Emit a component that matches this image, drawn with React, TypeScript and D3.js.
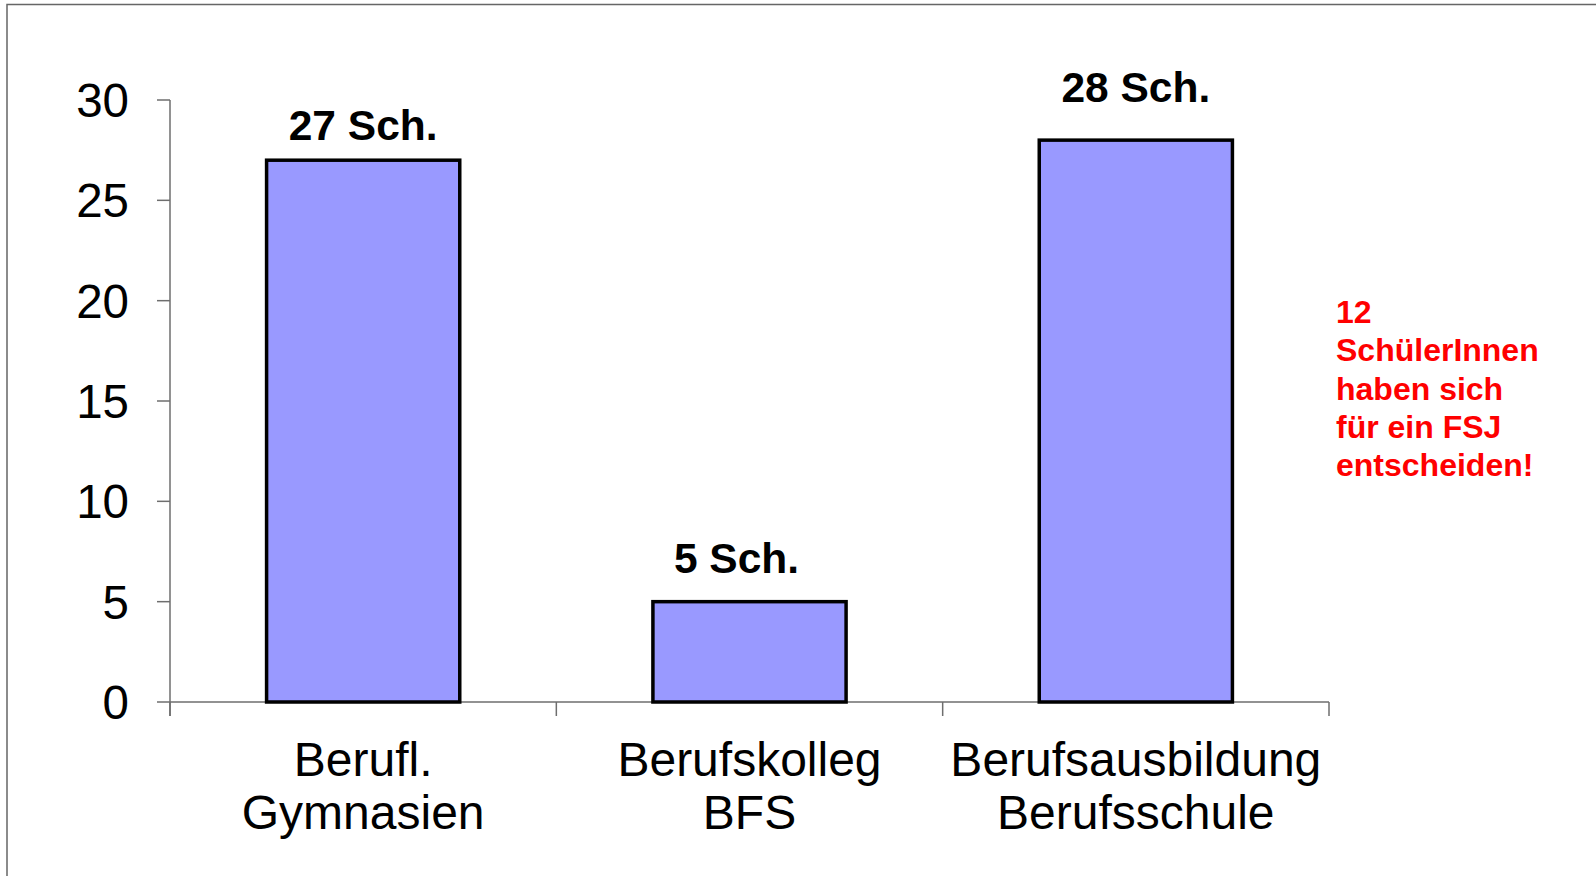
import React, { useEffect, useRef } from "react";
import * as d3 from "d3";

// chart data
const categories = ["Berufl.|Gymnasien", "Berufskolleg|BFS", "Berufsausbildung|Berufsschule"];
const values = [27, 5, 28];
const valueLabels = ["27 Sch.", "5 Sch.", "28 Sch."];
const yTicks = [0, 5, 10, 15, 20, 25, 30];
const noteLines = ["12", "SchülerInnen", "haben sich", "für ein FSJ", "entscheiden!"];

// manual nudges of the value labels (they were hand-placed in the original)
const labelNudgeX = [0, -13, 0];
const labelNudgeY = [-20, -29, -38];

const FONT = "'Liberation Sans', Arial, sans-serif";

export default function App() {
  const ref = useRef<SVGSVGElement | null>(null);

  useEffect(() => {
    const width = 1596;
    const height = 876;
    const left = 170;
    const right = 1329;
    const top = 100;
    const bottom = 702;

    const svg = d3.select(ref.current);
    svg.selectAll("*").remove();
    svg.attr("width", width).attr("height", height);

    svg.append("rect").attr("width", width).attr("height", height).attr("fill", "#fff");

    // slide frame
    svg
      .append("rect")
      .attr("x", 7)
      .attr("y", 4.5)
      .attr("width", width + 20)
      .attr("height", height + 20)
      .attr("fill", "none")
      .attr("stroke", "#666")
      .attr("stroke-width", 1.5);

    const x = d3
      .scaleBand<string>()
      .domain(categories)
      .range([left, right])
      .paddingInner(0.5)
      .paddingOuter(0.25);

    const y = d3.scaleLinear().domain([0, 30]).range([bottom, top]);

    const axisColor = "#6e6e6e";

    // y axis
    const gy = svg.append("g");
    gy.append("line")
      .attr("x1", left).attr("x2", left)
      .attr("y1", y(30)).attr("y2", bottom + 14)
      .attr("stroke", axisColor).attr("stroke-width", 1.5);
    gy.selectAll("line.tick")
      .data(yTicks)
      .join("line")
      .attr("class", "tick")
      .attr("x1", left - 13).attr("x2", left)
      .attr("y1", (d) => y(d)).attr("y2", (d) => y(d))
      .attr("stroke", axisColor).attr("stroke-width", 1.5);
    gy.selectAll("text")
      .data(yTicks)
      .join("text")
      .attr("x", 129)
      .attr("y", (d) => y(d))
      .attr("dy", "0.36em")
      .attr("text-anchor", "end")
      .attr("font-family", FONT)
      .attr("font-size", 47.5)
      .attr("fill", "#000")
      .text((d) => d);

    // x axis
    const gx = svg.append("g");
    gx.append("line")
      .attr("x1", left).attr("x2", right)
      .attr("y1", bottom).attr("y2", bottom)
      .attr("stroke", axisColor).attr("stroke-width", 1.5);
    const step = x.step();
    const boundaries = d3.range(categories.length + 1).map((i) => left + i * step);
    gx.selectAll("line.tick")
      .data(boundaries)
      .join("line")
      .attr("class", "tick")
      .attr("x1", (d) => d).attr("x2", (d) => d)
      .attr("y1", bottom).attr("y2", bottom + 14)
      .attr("stroke", axisColor).attr("stroke-width", 1.5);

    const catText = gx
      .selectAll("text")
      .data(categories)
      .join("text")
      .attr("text-anchor", "middle")
      .attr("font-family", FONT)
      .attr("font-size", 48)
      .attr("fill", "#000");
    catText
      .selectAll("tspan")
      .data((d) => d.split("|").map((line) => ({ line, cat: d })))
      .join("tspan")
      .attr("x", (d) => (x(d.cat) as number) + x.bandwidth() / 2)
      .attr("y", (d, i) => 776 + i * 53)
      .text((d) => d.line);

    // bars
    svg
      .append("g")
      .selectAll("rect")
      .data(values)
      .join("rect")
      .attr("x", (d, i) => x(categories[i]) as number)
      .attr("y", (d) => y(d))
      .attr("width", x.bandwidth())
      .attr("height", (d) => bottom - y(d))
      .attr("fill", "#9999ff")
      .attr("stroke", "#000")
      .attr("stroke-width", 3.5);

    // value labels
    svg
      .append("g")
      .selectAll("text")
      .data(values)
      .join("text")
      .attr("x", (d, i) => (x(categories[i]) as number) + x.bandwidth() / 2 + labelNudgeX[i])
      .attr("y", (d, i) => y(d) + labelNudgeY[i])
      .attr("text-anchor", "middle")
      .attr("font-family", FONT)
      .attr("font-weight", "bold")
      .attr("font-size", 42.5)
      .attr("fill", "#000")
      .text((d, i) => valueLabels[i]);

    // red note
    svg
      .append("g")
      .selectAll("text")
      .data(noteLines)
      .join("text")
      .attr("x", 1336)
      .attr("y", (d, i) => 323 + i * 38.3)
      .attr("font-family", FONT)
      .attr("font-weight", "bold")
      .attr("font-size", 32)
      .attr("fill", "#ff0000")
      .text((d) => d);
  }, []);

  return (
    <svg
      ref={ref}
      style={{ position: "absolute", left: 0, top: 0, display: "block" }}
    />
  );
}
